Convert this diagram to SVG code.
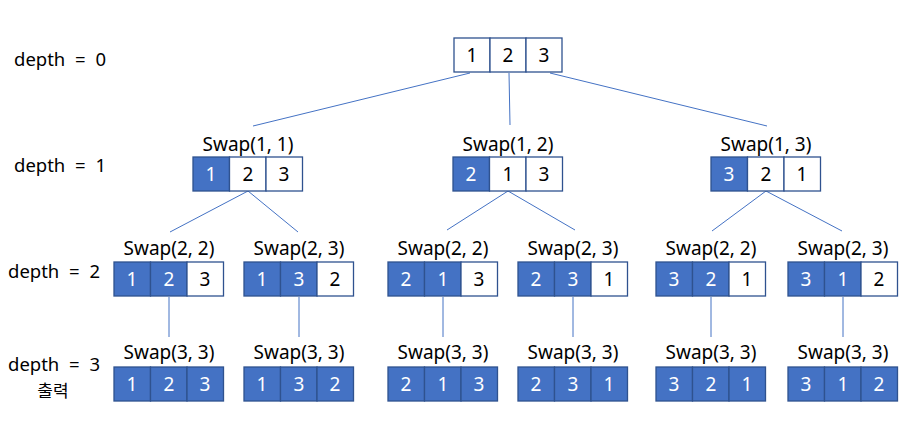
<svg xmlns="http://www.w3.org/2000/svg" width="923" height="424" viewBox="0 0 923 424">
<style>
.c{stroke:#2F528F;stroke-width:1.3;fill:#fff}
.b{fill:#4472C4}
.n{font-family:"Noto Sans","Noto Sans CJK KR",sans-serif;font-size:19px;text-anchor:middle;fill:#000}
.nw{fill:#fff}
.lb{font-family:"Noto Sans","Noto Sans CJK KR",sans-serif;font-size:19px;text-anchor:middle;fill:#000}
.dp{font-family:"Noto Sans","Noto Sans CJK KR",sans-serif;font-size:18.5px;word-spacing:5px;fill:#000}
.ko{font-family:"Noto Sans CJK KR",sans-serif;font-size:17px;text-anchor:middle;fill:#000}
.ln{stroke:#4472C4;stroke-width:1;fill:none}
</style>
<rect width="923" height="424" fill="#fff"/>
<g id="depth-labels">
<text class="dp" x="14" y="66">depth = 0</text>
<text class="dp" x="14" y="172">depth = 1</text>
<text class="dp" x="8" y="278">depth = 2</text>
<text class="dp" x="8" y="371">depth = 3</text>
<text class="ko" x="53" y="397">출력</text>
</g>
<g id="connectors">
<line class="ln" x1="470" y1="73" x2="253" y2="126"/>
<line class="ln" x1="509" y1="73" x2="510" y2="125"/>
<line class="ln" x1="550" y1="73" x2="767" y2="126"/>
<line class="ln" x1="248" y1="191" x2="170" y2="232"/>
<line class="ln" x1="248" y1="191" x2="298" y2="232"/>
<line class="ln" x1="508" y1="191" x2="447" y2="230"/>
<line class="ln" x1="508" y1="191" x2="575" y2="230"/>
<line class="ln" x1="766" y1="191" x2="712" y2="231"/>
<line class="ln" x1="766" y1="191" x2="842" y2="231"/>
<line class="ln" x1="169" y1="297" x2="169" y2="337"/>
<line class="ln" x1="299" y1="297" x2="299" y2="337"/>
<line class="ln" x1="443" y1="297" x2="443" y2="337"/>
<line class="ln" x1="573" y1="297" x2="573" y2="337"/>
<line class="ln" x1="711" y1="297" x2="711" y2="337"/>
<line class="ln" x1="843" y1="297" x2="843" y2="337"/>
</g>
<g id="root">
<rect class="c" x="454" y="38" width="36" height="34"/><rect class="c" x="490" y="38" width="36" height="34"/><rect class="c" x="526" y="38" width="36" height="34"/>
<text class="n" x="472" y="62">1</text><text class="n" x="508" y="62">2</text><text class="n" x="544" y="62">3</text>
</g>
<g id="d1a">
<text class="lb" x="248" y="151">Swap(1, 1)</text>
<rect class="c b" x="193" y="157" width="36.5" height="34"/><rect class="c" x="229.5" y="157" width="36.5" height="34"/><rect class="c" x="266" y="157" width="36.5" height="34"/>
<text class="n nw" x="211" y="181">1</text><text class="n" x="248" y="181">2</text><text class="n" x="284" y="181">3</text>
</g>
<g id="d1b">
<text class="lb" x="508" y="151">Swap(1, 2)</text>
<rect class="c b" x="453" y="157" width="36.5" height="34"/><rect class="c" x="489.5" y="157" width="36.5" height="34"/><rect class="c" x="526" y="157" width="36.5" height="34"/>
<text class="n nw" x="471" y="181">2</text><text class="n" x="508" y="181">1</text><text class="n" x="544" y="181">3</text>
</g>
<g id="d1c">
<text class="lb" x="766" y="151">Swap(1, 3)</text>
<rect class="c b" x="711" y="157" width="36.5" height="34"/><rect class="c" x="747.5" y="157" width="36.5" height="34"/><rect class="c" x="784" y="157" width="36.5" height="34"/>
<text class="n nw" x="729" y="181">3</text><text class="n" x="766" y="181">2</text><text class="n" x="802" y="181">1</text>
</g>
<g id="d2a">
<text class="lb" x="169" y="255">Swap(2, 2)</text>
<rect class="c b" x="114" y="262" width="36.5" height="34"/><rect class="c b" x="150.5" y="262" width="36.5" height="34"/><rect class="c" x="187" y="262" width="36.5" height="34"/>
<text class="n nw" x="132" y="286">1</text><text class="n nw" x="169" y="286">2</text><text class="n" x="205" y="286">3</text>
</g>
<g id="d2b">
<text class="lb" x="299" y="255">Swap(2, 3)</text>
<rect class="c b" x="244" y="262" width="36.5" height="34"/><rect class="c b" x="280.5" y="262" width="36.5" height="34"/><rect class="c" x="317" y="262" width="36.5" height="34"/>
<text class="n nw" x="262" y="286">1</text><text class="n nw" x="299" y="286">3</text><text class="n" x="335" y="286">2</text>
</g>
<g id="d2c">
<text class="lb" x="443" y="255">Swap(2, 2)</text>
<rect class="c b" x="388" y="262" width="36.5" height="34"/><rect class="c b" x="424.5" y="262" width="36.5" height="34"/><rect class="c" x="461" y="262" width="36.5" height="34"/>
<text class="n nw" x="406" y="286">2</text><text class="n nw" x="443" y="286">1</text><text class="n" x="479" y="286">3</text>
</g>
<g id="d2d">
<text class="lb" x="573" y="255">Swap(2, 3)</text>
<rect class="c b" x="518" y="262" width="36.5" height="34"/><rect class="c b" x="554.5" y="262" width="36.5" height="34"/><rect class="c" x="591" y="262" width="36.5" height="34"/>
<text class="n nw" x="536" y="286">2</text><text class="n nw" x="573" y="286">3</text><text class="n" x="609" y="286">1</text>
</g>
<g id="d2e">
<text class="lb" x="711" y="255">Swap(2, 2)</text>
<rect class="c b" x="656" y="262" width="36.5" height="34"/><rect class="c b" x="692.5" y="262" width="36.5" height="34"/><rect class="c" x="729" y="262" width="36.5" height="34"/>
<text class="n nw" x="674" y="286">3</text><text class="n nw" x="711" y="286">2</text><text class="n" x="747" y="286">1</text>
</g>
<g id="d2f">
<text class="lb" x="843" y="255">Swap(2, 3)</text>
<rect class="c b" x="788" y="262" width="36.5" height="34"/><rect class="c b" x="824.5" y="262" width="36.5" height="34"/><rect class="c" x="861" y="262" width="36.5" height="34"/>
<text class="n nw" x="806" y="286">3</text><text class="n nw" x="843" y="286">1</text><text class="n" x="879" y="286">2</text>
</g>
<g id="d3a">
<text class="lb" x="169" y="359">Swap(3, 3)</text>
<rect class="c b" x="114" y="367" width="36.5" height="34"/><rect class="c b" x="150.5" y="367" width="36.5" height="34"/><rect class="c b" x="187" y="367" width="36.5" height="34"/>
<text class="n nw" x="132" y="391">1</text><text class="n nw" x="169" y="391">2</text><text class="n nw" x="205" y="391">3</text>
</g>
<g id="d3b">
<text class="lb" x="299" y="359">Swap(3, 3)</text>
<rect class="c b" x="244" y="367" width="36.5" height="34"/><rect class="c b" x="280.5" y="367" width="36.5" height="34"/><rect class="c b" x="317" y="367" width="36.5" height="34"/>
<text class="n nw" x="262" y="391">1</text><text class="n nw" x="299" y="391">3</text><text class="n nw" x="335" y="391">2</text>
</g>
<g id="d3c">
<text class="lb" x="443" y="359">Swap(3, 3)</text>
<rect class="c b" x="388" y="367" width="36.5" height="34"/><rect class="c b" x="424.5" y="367" width="36.5" height="34"/><rect class="c b" x="461" y="367" width="36.5" height="34"/>
<text class="n nw" x="406" y="391">2</text><text class="n nw" x="443" y="391">1</text><text class="n nw" x="479" y="391">3</text>
</g>
<g id="d3d">
<text class="lb" x="573" y="359">Swap(3, 3)</text>
<rect class="c b" x="518" y="367" width="36.5" height="34"/><rect class="c b" x="554.5" y="367" width="36.5" height="34"/><rect class="c b" x="591" y="367" width="36.5" height="34"/>
<text class="n nw" x="536" y="391">2</text><text class="n nw" x="573" y="391">3</text><text class="n nw" x="609" y="391">1</text>
</g>
<g id="d3e">
<text class="lb" x="711" y="359">Swap(3, 3)</text>
<rect class="c b" x="656" y="367" width="36.5" height="34"/><rect class="c b" x="692.5" y="367" width="36.5" height="34"/><rect class="c b" x="729" y="367" width="36.5" height="34"/>
<text class="n nw" x="674" y="391">3</text><text class="n nw" x="711" y="391">2</text><text class="n nw" x="747" y="391">1</text>
</g>
<g id="d3f">
<text class="lb" x="843" y="359">Swap(3, 3)</text>
<rect class="c b" x="788" y="367" width="36.5" height="34"/><rect class="c b" x="824.5" y="367" width="36.5" height="34"/><rect class="c b" x="861" y="367" width="36.5" height="34"/>
<text class="n nw" x="806" y="391">3</text><text class="n nw" x="843" y="391">1</text><text class="n nw" x="879" y="391">2</text>
</g>
</svg>
